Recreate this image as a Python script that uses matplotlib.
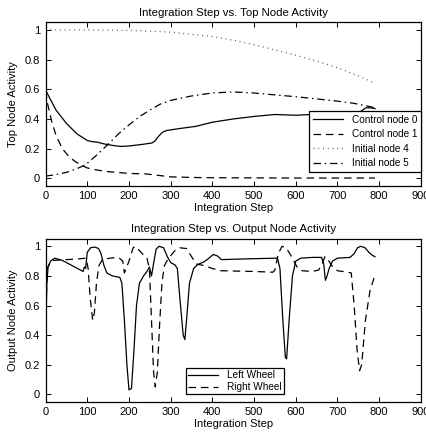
import matplotlib
matplotlib.use("Agg")
import matplotlib.pyplot as plt

plt.rcParams['font.family'] = ['Liberation Sans', 'DejaVu Sans']
plt.rcParams['font.size'] = 8

# ---- top panel: node activity ----
ctrl0_x = [0, 10, 25, 50, 75, 100, 110, 125, 140, 160, 180, 200, 230, 255, 262, 270, 280, 290,
           320, 360, 400, 450, 500, 550, 600, 650, 700, 740, 755, 768, 780, 790]
ctrl0_y = [0.595, 0.54, 0.46, 0.37, 0.30, 0.255, 0.248, 0.243, 0.232, 0.222, 0.215, 0.218, 0.228,
           0.238, 0.25, 0.28, 0.31, 0.322, 0.335, 0.35, 0.378, 0.40, 0.417, 0.43, 0.425, 0.432,
           0.43, 0.43, 0.45, 0.475, 0.475, 0.47]

ctrl1_x = [0, 5, 15, 25, 40, 55, 70, 85, 100, 125, 150, 200, 240, 270, 300, 350, 400, 500, 600, 790]
ctrl1_y = [0.59, 0.5, 0.38, 0.29, 0.2, 0.15, 0.115, 0.09, 0.07, 0.055, 0.045, 0.033, 0.03, 0.02,
           0.01, 0.006, 0.004, 0.003, 0.002, 0.002]

init4_x = [0, 100, 200, 300, 400, 450, 500, 550, 600, 650, 700, 750, 790]
init4_y = [1.0, 1.0, 0.997, 0.985, 0.955, 0.93, 0.90, 0.865, 0.83, 0.79, 0.745, 0.69, 0.64]

init5_x = [0, 25, 50, 75, 95, 120, 150, 175, 200, 225, 250, 275, 300, 350, 400, 450, 500, 550,
           600, 650, 700, 740, 770, 790]
init5_y = [0.015, 0.025, 0.04, 0.065, 0.09, 0.15, 0.23, 0.30, 0.36, 0.415, 0.46, 0.50, 0.525,
           0.555, 0.575, 0.582, 0.575, 0.562, 0.55, 0.535, 0.52, 0.505, 0.488, 0.475]

# ---- bottom panel: output nodes ----
left_x = [0, 3, 6, 12, 22, 40, 60, 80, 90, 93, 96, 100, 108, 118, 127, 133, 140, 147, 160, 178,
          183, 189, 195, 200, 206, 212, 218, 225, 235, 243, 249, 254, 260, 265, 272, 283, 292,
          300, 310, 316, 322, 330, 334, 338, 345, 355, 365, 380, 392, 402, 412, 422, 480, 556,
          562, 569, 575, 578, 584, 592, 600, 612, 640, 662, 667, 671, 675, 680, 688, 700, 730,
          740, 748, 756, 766, 775, 783, 790]
left_y = [0.34, 0.75, 0.86, 0.9, 0.92, 0.905, 0.875, 0.845, 0.83, 0.86, 0.85, 0.96, 0.99, 0.995,
          0.985, 0.95, 0.87, 0.82, 0.80, 0.79, 0.75, 0.5, 0.2, 0.03, 0.04, 0.3, 0.6, 0.75, 0.8,
          0.83, 0.86, 0.8, 0.9, 0.98, 1.0, 0.99, 0.93, 0.89, 0.875, 0.85, 0.65, 0.4, 0.37, 0.5,
          0.75, 0.85, 0.877, 0.895, 0.92, 0.945, 0.935, 0.91, 0.915, 0.92, 0.85, 0.5, 0.25, 0.24,
          0.5, 0.8, 0.9, 0.92, 0.925, 0.925, 0.88, 0.77, 0.8, 0.85, 0.9, 0.92, 0.925, 0.95, 0.99,
          1.0, 0.99, 0.96, 0.94, 0.93]

right_x = [0, 4, 12, 20, 50, 80, 97, 102, 107, 113, 117, 122, 128, 136, 155, 175, 185, 189, 200,
           210, 215, 222, 232, 243, 249, 254, 259, 263, 268, 273, 279, 285, 295, 310, 322, 338,
           350, 362, 380, 400, 420, 500, 545, 550, 558, 567, 578, 590, 603, 615, 640, 655, 663,
           670, 677, 686, 700, 725, 733, 740, 747, 753, 758, 767, 778, 787, 790]
right_y = [0.5, 0.85, 0.9, 0.905, 0.91, 0.915, 0.92, 0.85, 0.65, 0.5, 0.55, 0.75, 0.87, 0.91,
           0.92, 0.925, 0.9, 0.82, 0.9, 0.99, 1.0, 0.98, 0.95, 0.92, 0.85, 0.5, 0.15, 0.05, 0.15,
           0.45, 0.75, 0.87, 0.92, 0.97, 0.99, 0.985, 0.93, 0.88, 0.87, 0.85, 0.835, 0.83, 0.825,
           0.84, 0.95, 1.0, 0.985, 0.93, 0.86, 0.835, 0.83, 0.84, 0.88, 0.93, 0.91, 0.87, 0.835,
           0.825, 0.82, 0.6, 0.3, 0.16, 0.2, 0.5, 0.7, 0.78, 0.79]

x_ticks = list(range(0, 1000, 100))
y_ticks = [0, 0.2, 0.4, 0.6, 0.8, 1]
y_tick_labels = ['0', '0.2', '0.4', '0.6', '0.8', '1']

fig = plt.figure(figsize=(4.26, 4.32), dpi=100)
ax1 = fig.add_axes([0.107, 0.570, 0.881, 0.378])
ax2 = fig.add_axes([0.107, 0.070, 0.881, 0.377])

lw = 0.9
ax1.plot(ctrl0_x, ctrl0_y, 'k-', lw=lw, label='Control node 0')
ax1.plot(ctrl1_x, ctrl1_y, 'k--', lw=lw, dashes=(6, 4), label='Control node 1')
ax1.plot(init4_x, init4_y, ':', color='0.35', lw=lw, dashes=(0.8, 3), label='Initial node 4')
ax1.plot(init5_x, init5_y, 'k-.', lw=lw, dashes=(6, 3, 1.2, 3), label='Initial node 5')

ax2.plot(left_x, left_y, 'k-', lw=lw, label='Left Wheel')
ax2.plot(right_x, right_y, 'k--', lw=lw, dashes=(6, 4), label='Right Wheel')

for ax in (ax1, ax2):
    ax.set_xlim(0, 900)
    ax.set_ylim(-0.05, 1.05)
    ax.set_xticks(x_ticks)
    ax.set_yticks(y_ticks)
    ax.set_yticklabels(y_tick_labels)
    ax.tick_params(direction='in', top=True, right=True, length=3.5, width=0.7, labelsize=8, pad=4)
    for s in ax.spines.values():
        s.set_linewidth(0.9)
    ax.set_xlabel('Integration Step', fontsize=8, labelpad=1)

ax1.set_title('Integration Step vs. Top Node Activity', fontsize=8.2, pad=5)
ax1.set_ylabel('Top Node Activity', fontsize=8, labelpad=5)
ax2.set_title('Integration Step vs. Output Node Activity', fontsize=8.2, pad=5)
ax2.set_ylabel('Output Node Activity', fontsize=8, labelpad=5)

leg_kw = dict(fancybox=False, framealpha=1, edgecolor='black', fontsize=7.2, borderaxespad=0,
              handlelength=3.0, handletextpad=0.9)
l1 = ax1.legend(loc='lower right', bbox_to_anchor=(1.0, 0.086),
                labelspacing=0.45, borderpad=0.35, **leg_kw)
l2 = ax2.legend(loc='lower center', bbox_to_anchor=(0.504, 0.045),
                labelspacing=0.2, borderpad=0.2, **leg_kw)
for l in (l1, l2):
    l.get_frame().set_linewidth(0.9)

fig.savefig('out.png', dpi=100)
